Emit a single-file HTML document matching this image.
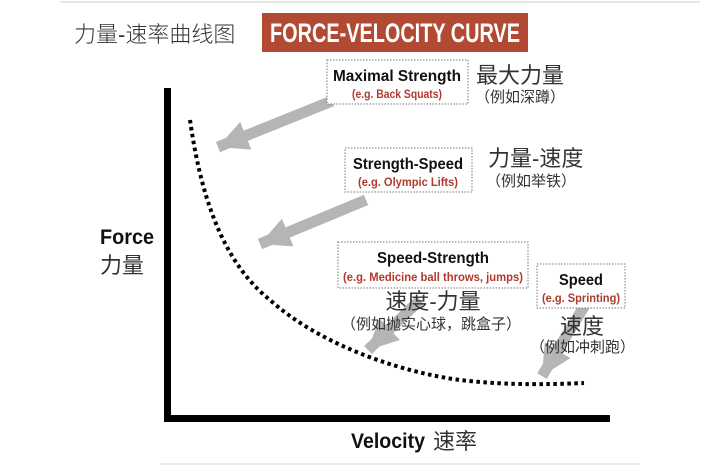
<!DOCTYPE html>
<html><head><meta charset="utf-8"><style>
html,body{margin:0;padding:0;background:#fff;width:720px;height:468px;overflow:hidden}
svg{display:block}
.cn{font-family:"Liberation Sans","Noto Sans CJK SC",sans-serif;fill:#333}
.b{font-family:"Liberation Sans",sans-serif;font-weight:bold;fill:#111}
.r{font-family:"Liberation Sans",sans-serif;font-weight:bold;fill:#b03a2e}
</style></head><body>
<svg width="720" height="468" viewBox="0 0 720 468">
<defs>
<marker id="ah" markerUnits="userSpaceOnUse" markerWidth="40" markerHeight="40" refX="30" refY="15" orient="auto">
<path d="M0,0 L30,15 L0,30 Z" fill="#b5b5b5"/>
</marker>
</defs>
<line x1="60" y1="2" x2="700" y2="2" stroke="#e6e6e6" stroke-width="2"/>
<line x1="160" y1="464" x2="640" y2="464" stroke="#ececec" stroke-width="2"/>
<text x="74" y="42" class="cn" font-size="22" style="font-weight:300">力量-速率曲线图</text>
<rect x="262" y="13" width="266" height="39" fill="#b24a33"/>
<text x="395" y="42" font-family="Liberation Sans,sans-serif" font-weight="bold" font-size="27" fill="#fff" text-anchor="middle" textLength="250" lengthAdjust="spacingAndGlyphs">FORCE-VELOCITY CURVE</text>
<rect x="164" y="88" width="7" height="334" fill="#000"/>
<rect x="164" y="415" width="446" height="7" fill="#000"/>
<path d="M190,120 C200,190 220,260 270,300 C320,345 400,372 460,380 C510,386 560,384 584,383" fill="none" stroke="#000" stroke-width="4" stroke-dasharray="3.5,3.5"/>
<g stroke="#b5b5b5" stroke-width="11" marker-end="url(#ah)">
<line x1="332" y1="101" x2="218" y2="147"/>
<line x1="366" y1="200" x2="260" y2="244"/>
<line x1="420" y1="300" x2="368" y2="350"/>
<line x1="588" y1="300" x2="542" y2="376"/>
</g>
<g fill="#fff" stroke="#777" stroke-width="1" stroke-dasharray="1.5,1.5">
<rect x="327" y="60" width="141" height="44"/>
<rect x="345" y="148" width="127" height="44"/>
<rect x="338" y="242" width="190" height="46"/>
<rect x="537" y="264" width="88" height="44"/>
</g>
<text x="397" y="81" class="b" font-size="16" text-anchor="middle" textLength="128" lengthAdjust="spacingAndGlyphs">Maximal Strength</text>
<text x="397" y="98" class="r" font-size="12" text-anchor="middle" textLength="90" lengthAdjust="spacingAndGlyphs">(e.g. Back Squats)</text>
<text x="408" y="169" class="b" font-size="16" text-anchor="middle" textLength="110" lengthAdjust="spacingAndGlyphs">Strength-Speed</text>
<text x="408" y="186" class="r" font-size="12" text-anchor="middle" textLength="100" lengthAdjust="spacingAndGlyphs">(e.g. Olympic Lifts)</text>
<text x="433" y="263" class="b" font-size="16" text-anchor="middle" textLength="112" lengthAdjust="spacingAndGlyphs">Speed-Strength</text>
<text x="433" y="281" class="r" font-size="12" text-anchor="middle" textLength="180" lengthAdjust="spacingAndGlyphs">(e.g. Medicine ball throws, jumps)</text>
<text x="581" y="285" class="b" font-size="16" text-anchor="middle" textLength="44" lengthAdjust="spacingAndGlyphs">Speed</text>
<text x="581" y="302" class="r" font-size="12" text-anchor="middle" textLength="78" lengthAdjust="spacingAndGlyphs">(e.g. Sprinting)</text>
<text x="476" y="83" class="cn" font-size="22">最大力量</text>
<text x="475" y="102" class="cn" font-size="15">（例如深蹲）</text>
<text x="488" y="166" class="cn" font-size="22">力量-速度</text>
<text x="486" y="186" class="cn" font-size="15">（例如举铁）</text>
<text x="433" y="309" class="cn" font-size="22" text-anchor="middle">速度-力量</text>
<text x="431" y="329" class="cn" font-size="15" text-anchor="middle">（例如抛实心球，跳盒子）</text>
<text x="560" y="334" class="cn" font-size="22">速度</text>
<text x="530" y="352" class="cn" font-size="15">（例如冲刺跑）</text>
<text x="100" y="244" class="b" font-size="21" textLength="54" lengthAdjust="spacingAndGlyphs">Force</text>
<text x="100" y="273" class="cn" font-size="22">力量</text>
<text x="351" y="448" class="b" font-size="21" textLength="74" lengthAdjust="spacingAndGlyphs">Velocity</text>
<text x="433" y="449" class="cn" font-size="22">速率</text>
</svg>
</body></html>
